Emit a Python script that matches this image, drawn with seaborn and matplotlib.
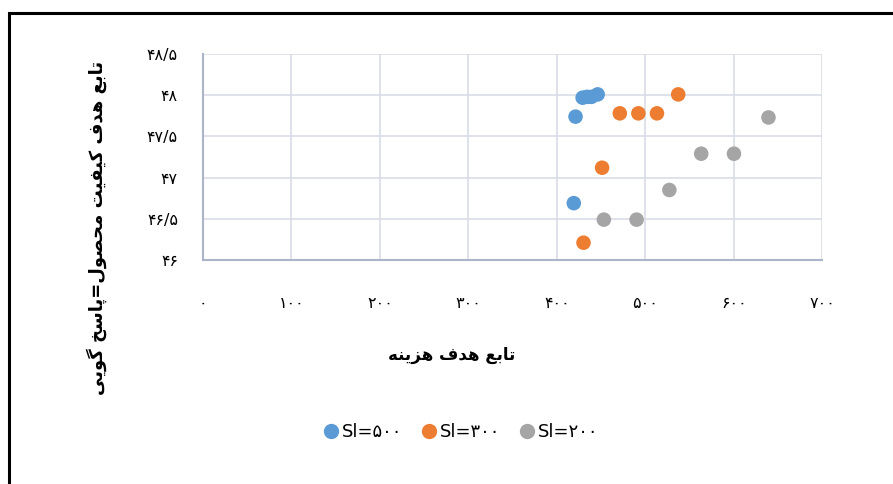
import matplotlib
matplotlib.use("Agg")
import matplotlib.pyplot as plt
import seaborn as sns
import pandas as pd
from matplotlib.patches import Rectangle

# data
cost_500 = [421, 429, 434, 439, 446, 419]
quality_500 = [47.74, 47.97, 47.98, 47.98, 48.01, 46.69]
cost_300 = [537, 471, 492, 513, 451, 430]
quality_300 = [48.01, 47.78, 47.78, 47.78, 47.12, 46.21]
cost_200 = [639, 563, 600, 527, 453, 490]
quality_200 = [47.73, 47.29, 47.29, 46.85, 46.49, 46.49]

series_names = ["Sl=۵۰۰", "Sl=۳۰۰", "Sl=۲۰۰"]
colors = ["#5B9BD5", "#ED7D31", "#A5A5A5"]

x_ticks = [0, 100, 200, 300, 400, 500, 600, 700]
x_tick_labels = ["۰", "۱۰۰", "۲۰۰", "۳۰۰", "۴۰۰", "۵۰۰", "۶۰۰", "۷۰۰"]
y_ticks = [46, 46.5, 47, 47.5, 48, 48.5]
y_tick_labels = ["۴۶", "۴۶/۵", "۴۷", "۴۷/۵", "۴۸", "۴۸/۵"]

x_title = "تابع هدف هزینه"
y_title = "تابع هدف کیفیت محصول=پاسخ گویی"

# minimal arabic/persian shaping (iso, final, initial, medial)
FORMS = {
    "ا": (0xFE8D, 0xFE8E), "ب": (0xFE8F, 0xFE90, 0xFE91, 0xFE92),
    "پ": (0xFB56, 0xFB57, 0xFB58, 0xFB59), "ت": (0xFE95, 0xFE96, 0xFE97, 0xFE98),
    "ح": (0xFEA1, 0xFEA2, 0xFEA3, 0xFEA4), "خ": (0xFEA5, 0xFEA6, 0xFEA7, 0xFEA8),
    "د": (0xFEA9, 0xFEAA), "ز": (0xFEAF, 0xFEB0),
    "س": (0xFEB1, 0xFEB2, 0xFEB3, 0xFEB4), "ص": (0xFEB9, 0xFEBA, 0xFEBB, 0xFEBC),
    "ع": (0xFEC9, 0xFECA, 0xFECB, 0xFECC), "ف": (0xFED1, 0xFED2, 0xFED3, 0xFED4),
    "ک": (0xFB8E, 0xFB8F, 0xFB90, 0xFB91), "گ": (0xFB92, 0xFB93, 0xFB94, 0xFB95),
    "ل": (0xFEDD, 0xFEDE, 0xFEDF, 0xFEE0), "م": (0xFEE1, 0xFEE2, 0xFEE3, 0xFEE4),
    "ن": (0xFEE5, 0xFEE6, 0xFEE7, 0xFEE8), "ه": (0xFEE9, 0xFEEA, 0xFEEB, 0xFEEC),
    "و": (0xFEED, 0xFEEE), "ی": (0xFBFC, 0xFBFD, 0xFBFE, 0xFBFF),
}


def shape(text):
    out = []
    for i, ch in enumerate(text):
        if ch not in FORMS:
            out.append(ch)
            continue
        prev = text[i - 1] if i > 0 else ""
        nxt = text[i + 1] if i + 1 < len(text) else ""
        join_prev = prev in FORMS and len(FORMS[prev]) == 4
        join_next = nxt in FORMS and len(FORMS[ch]) == 4
        f = FORMS[ch]
        if join_prev and join_next:
            c = f[3]
        elif join_prev:
            c = f[1]
        elif join_next:
            c = f[2]
        else:
            c = f[0]
        out.append(chr(c))
    return "".join(reversed(out))


df = pd.DataFrame({
    "cost": cost_500 + cost_300 + cost_200,
    "quality": quality_500 + quality_300 + quality_200,
    "series": [series_names[0]] * len(cost_500) + [series_names[1]] * len(cost_300)
              + [series_names[2]] * len(cost_200),
})

sns.set_style("white")
plt.rcParams["font.family"] = ["DejaVu Sans"]
plt.rcParams["text.color"] = "black"
plt.rcParams["xtick.color"] = "black"
plt.rcParams["ytick.color"] = "black"

fig = plt.figure(figsize=(8.93, 4.84), dpi=100)
ax = fig.add_axes([0.2273, 0.4628, 0.6937, 0.4256])

sns.scatterplot(data=df, x="cost", y="quality", hue="series", palette=colors,
                s=110, edgecolor="none", ax=ax, legend=False, zorder=3)

ax.set_xlim(0, 700)
ax.set_ylim(46, 48.5)
ax.set_xticks(x_ticks)
ax.set_xticklabels(x_tick_labels, fontsize=11.5)
ax.set_yticks(y_ticks)
ax.set_yticklabels(y_tick_labels, fontsize=11.5)
ax.tick_params(axis="x", length=0, pad=26)
ax.tick_params(axis="y", length=0, pad=18)
ax.grid(True, color="#D9DDE6", linewidth=1.2)
ax.set_axisbelow(True)
for side in ["top", "right"]:
    ax.spines[side].set_visible(False)
for side in ["left", "bottom"]:
    ax.spines[side].set_color("#AAB5C9")
    ax.spines[side].set_linewidth(1.5)
ax.set_xlabel("")
ax.set_ylabel("")

fig.text(452 / 893, 1 - 355 / 484, shape(x_title), ha="center", va="center",
         fontsize=12, fontweight="bold")
fig.text(97 / 893, 1 - 228 / 484, shape(y_title), ha="center", va="center",
         rotation=90, fontsize=13, fontweight="bold")

handles = [plt.Line2D([], [], marker="o", linestyle="", color=c, markersize=10)
           for c in colors]
fig.legend(handles, series_names, loc="center", bbox_to_anchor=(460 / 893, 1 - 432 / 484),
           ncol=3, frameon=False, fontsize=13, handletextpad=0.1, columnspacing=1.0,
           handlelength=1.0)

fig.patches.append(Rectangle((9 / 893, -0.1), 1.5, 1 - 13 / 484 + 0.1,
                             transform=fig.transFigure, fill=False,
                             edgecolor="black", linewidth=2.2))

fig.savefig("out.png", dpi=100)
